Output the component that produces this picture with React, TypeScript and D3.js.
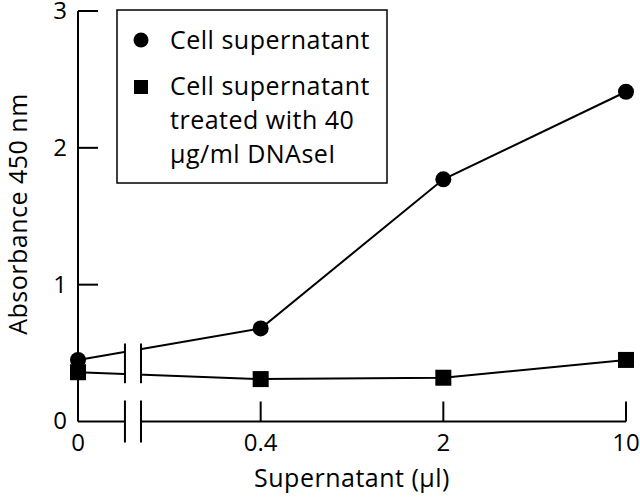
import React from "react";
import * as d3 from "d3";

const categories = ["0", "0.4", "2", "10"];
const untreated = [0.45, 0.68, 1.77, 2.41];
const treated = [0.36, 0.31, 0.32, 0.45];
const yTicks = [0, 1, 2, 3];
const seriesNames = ["Cell supernatant", "Cell supernatant", "treated with 40", "µg/ml DNAseI"];

const W = 640, H = 499;
const FONT = "'Open Sans', Lato, sans-serif";
const FS = 25;
const LS = 0.5;

export default function App() {
  const x = d3.scalePoint<string>().domain(categories).range([78, 626]);
  const y = d3.scaleLinear().domain([0, 3]).range([421.5, 11]);
  const step = x.step();
  const b1 = x("0")! + step * 0.257;
  const b2 = x("0")! + step * 0.345;

  const line = d3
    .line<number>()
    .x((_, i) => x(categories[i])!)
    .y((d) => y(d));

  const y0 = y(0);
  const tickLen = 20;

  return (
    <div style={{ position: "absolute", left: 0, top: 0 }}>
      <svg width={W} height={H} style={{ display: "block", background: "#fff" }} fontFamily={FONT}>
        <rect width={W} height={H} fill="#fff" />
        {/* data lines */}
        <path d={line(untreated)!} fill="none" stroke="#000" strokeWidth={2} />
        <path d={line(treated)!} fill="none" stroke="#000" strokeWidth={2} />
        {/* break gap on lines */}
        <rect x={b1 + 1} y={y(0.58)} width={b2 - b1 - 2} height={y(0.14) - y(0.58)} fill="#fff" />
        <line x1={b1} x2={b1} y1={y(0.57)} y2={y(0.28)} stroke="#000" strokeWidth={2} />
        <line x1={b2} x2={b2} y1={y(0.57)} y2={y(0.28)} stroke="#000" strokeWidth={2} />

        {/* y axis */}
        <line x1={x("0")} x2={x("0")} y1={y(3)} y2={y0} stroke="#000" strokeWidth={2} />
        {yTicks.filter((t) => t > 0).map((t) => (
          <line key={t} x1={x("0")} x2={x("0")! + tickLen} y1={y(t)} y2={y(t)} stroke="#000" strokeWidth={2} />
        ))}
        {yTicks.map((t) => (
          <text key={t} x={60} y={y(t)} dy="0.33em" textAnchor="middle" fontSize={24}>
            {t}
          </text>
        ))}

        {/* x axis with break */}
        <line x1={x("0")} x2={b1} y1={y0} y2={y0} stroke="#000" strokeWidth={2} />
        <line x1={b2} x2={x("10")} y1={y0} y2={y0} stroke="#000" strokeWidth={2} />
        <line x1={b1} x2={b1} y1={y0 - 21} y2={y0 + 21} stroke="#000" strokeWidth={2} />
        <line x1={b2} x2={b2} y1={y0 - 21} y2={y0 + 21} stroke="#000" strokeWidth={2} />
        {categories.slice(1).map((c) => (
          <line key={c} x1={x(c)} x2={x(c)} y1={y0} y2={y0 - tickLen} stroke="#000" strokeWidth={2} />
        ))}
        {categories.map((c) => (
          <text key={c} x={x(c)} y={451} textAnchor="middle" fontSize={24}>
            {c}
          </text>
        ))}

        {/* markers */}
        {untreated.map((v, i) => (
          <circle key={i} cx={x(categories[i])} cy={y(v)} r={8} fill="#000" />
        ))}
        {treated.map((v, i) => (
          <rect key={i} x={x(categories[i])! - 8} y={y(v) - 8} width={16} height={16} fill="#000" />
        ))}

        {/* axis titles */}
        <text x={352} y={487} textAnchor="middle" fontSize={FS} letterSpacing={LS}>
          Supernatant (µl)
        </text>
        <text transform={`translate(27,214) rotate(-90)`} textAnchor="middle" fontSize={FS} letterSpacing={LS}>
          Absorbance 450 nm
        </text>

        {/* legend */}
        <rect x={117} y={10} width={270} height={173} fill="#fff" stroke="#000" strokeWidth={1.5} />
        <circle cx={141} cy={40} r={7.5} fill="#000" />
        <rect x={134} y={80} width={14} height={14} fill="#000" />
        {seriesNames.map((s, i) => (
          <text key={i} x={170} y={[49, 95, 129, 163][i]} fontSize={FS} letterSpacing={LS}>
            {s}
          </text>
        ))}
      </svg>
    </div>
  );
}
